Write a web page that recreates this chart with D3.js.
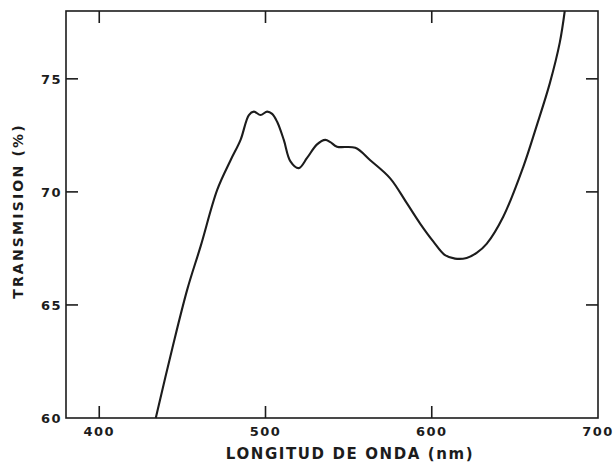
<!DOCTYPE html>
<html>
<head>
<meta charset="utf-8">
<script src="https://cdn.jsdelivr.net/npm/d3@7.9.0/dist/d3.min.js"></script>
<style>
  body { margin: 0; background: #fff; }
  svg text { font-family: "DejaVu Sans", sans-serif; font-weight: bold; fill: #1c1c1c; }
</style>
</head>
<body>
<svg id="chart" width="613" height="466"></svg>
<script>
// wavelength (nm) and transmission (%)
const wavelength = [434, 444, 453, 461, 471, 479, 485, 490, 493, 497, 501, 504, 507, 511, 515, 520, 525, 531, 536, 539, 543, 554, 563, 575, 585, 593, 601, 608, 614, 621, 627, 633, 643, 655, 663, 671, 677, 680];
const transmission = [60, 63.1, 65.7, 67.6, 70.1, 71.4, 72.3, 73.4, 73.55, 73.4, 73.55, 73.45, 73.1, 72.3, 71.35, 71.05, 71.5, 72.1, 72.3, 72.2, 72.0, 71.95, 71.4, 70.6, 69.5, 68.6, 67.8, 67.2, 67.05, 67.08, 67.3, 67.7, 68.9, 71.1, 72.9, 74.8, 76.6, 78.0];
const xTicks = [400, 500, 600, 700];
const yTicks = [60, 65, 70, 75];
const xTitle = 'LONGITUD DE ONDA (nm)';
const yTitle = 'TRANSMISION (%)';

const svg = d3.select('#chart');
const mLeft = 66, mRight = 598, mTop = 11, mBottom = 418;

const x = d3.scaleLinear().domain([380, 700]).range([mLeft, mRight]);
const y = d3.scaleLinear().domain([60, 78]).range([mBottom, mTop]);
const ink = '#1c1c1c';

// frame
svg.append('rect')
  .attr('x', mLeft).attr('y', mTop)
  .attr('width', mRight - mLeft).attr('height', mBottom - mTop)
  .attr('fill', 'none').attr('stroke', ink).attr('stroke-width', 1.6);

// inward ticks on all four sides
const tl = 12;
xTicks.filter(t => t < 700).forEach(t => {
  svg.append('line').attr('x1', x(t)).attr('x2', x(t)).attr('y1', mBottom).attr('y2', mBottom - tl)
    .attr('stroke', ink).attr('stroke-width', 1.6);
  svg.append('line').attr('x1', x(t)).attr('x2', x(t)).attr('y1', mTop).attr('y2', mTop + tl)
    .attr('stroke', ink).attr('stroke-width', 1.6);
});
yTicks.filter(t => t > 60).forEach(t => {
  svg.append('line').attr('x1', mLeft).attr('x2', mLeft + tl).attr('y1', y(t)).attr('y2', y(t))
    .attr('stroke', ink).attr('stroke-width', 1.6);
  svg.append('line').attr('x1', mRight).attr('x2', mRight - tl).attr('y1', y(t)).attr('y2', y(t))
    .attr('stroke', ink).attr('stroke-width', 1.6);
});

// tick labels
svg.selectAll('.xl').data(xTicks).join('text')
  .attr('x', d => x(d)).attr('y', 436)
  .attr('text-anchor', 'middle')
  .attr('font-size', 13).attr('letter-spacing', 1.5)
  .text(d => d);

svg.selectAll('.yl').data(yTicks).join('text')
  .attr('x', mLeft - 4).attr('y', d => y(d) + 5)
  .attr('text-anchor', 'end')
  .attr('font-size', 13).attr('letter-spacing', 1.5)
  .text(d => d);

// axis titles
svg.append('text')
  .attr('x', 350).attr('y', 459)
  .attr('text-anchor', 'middle')
  .attr('font-size', 15).attr('letter-spacing', 1.6)
  .text(xTitle);

svg.append('text')
  .attr('transform', 'translate(23,211) rotate(-90)')
  .attr('text-anchor', 'middle')
  .attr('font-size', 14).attr('letter-spacing', 2.2)
  .text(yTitle);

// curve
const pts = wavelength.map((w, i) => [w, transmission[i]]);
const line = d3.line()
  .x(d => x(d[0]))
  .y(d => y(d[1]))
  .curve(d3.curveCatmullRom.alpha(0.5));

svg.append('path')
  .datum(pts)
  .attr('d', line)
  .attr('fill', 'none')
  .attr('stroke', ink)
  .attr('stroke-width', 2.1);
</script>
</body>
</html>
